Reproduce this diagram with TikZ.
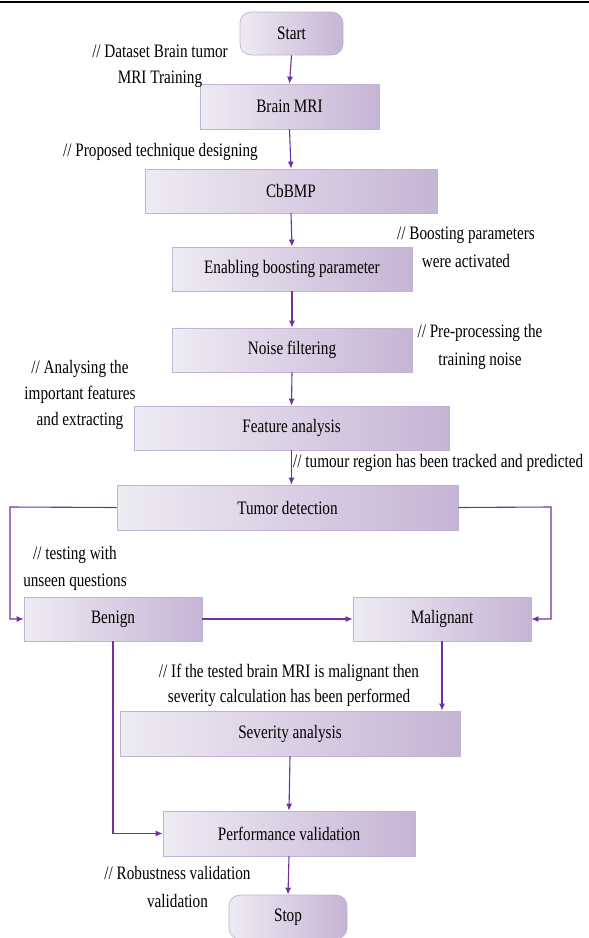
\documentclass[tikz,border=0pt]{standalone}
\usepackage{fontspec}
\setmainfont{Liberation Serif}[FakeStretch=0.8]
\usetikzlibrary{arrows.meta,calc}
\definecolor{lavL}{HTML}{EEEBF4}
\definecolor{lavR}{HTML}{C6B4D4}
\definecolor{lavB}{HTML}{C2B2D3}
\definecolor{arrc}{HTML}{7030A0}
\begin{document}
\begin{tikzpicture}[x=1pt,y=-1pt,
  every node/.style={font=\fontsize{19}{26}\selectfont, inner sep=0pt},
  box/.style={draw=lavB, line width=0.7pt, left color=lavL, right color=lavR},
  term/.style={box, rounded corners=11pt},
  note/.style={align=center},
  arr/.style={draw=arrc, line width=1.1pt, -{Latex[length=7pt,width=6pt]}}
]
\useasboundingbox (0,0) rectangle (589,938);
\draw[line width=1.6pt] (0,2) -- (589,2);

% boxes
\node[term, minimum width=103pt, minimum height=43pt] (start) at (291.5,33.5) {Start};
\node[box, minimum width=179pt, minimum height=45pt] (brain) at (289.5,106.5) {Brain MRI};
\node[box, minimum width=292pt, minimum height=44pt] (cbbmp) at (291,191) {CbBMP};
\node[box, minimum width=240pt, minimum height=44pt] (enab) at (292,269) {Enabling boosting parameter};
\node[box, minimum width=240pt, minimum height=44pt] (noise) at (292,350) {Noise filtering};
\node[box, minimum width=315pt, minimum height=44pt] (feat) at (291.5,428) {Feature analysis};
\node[box, minimum width=341pt, minimum height=45pt] (tumor) at (287.5,507.5) {Tumor detection};
\node[box, minimum width=178pt, minimum height=44pt] (benign) at (113,619) {Benign};
\node[box, minimum width=178pt, minimum height=44pt] (malig) at (442,619) {Malignant};
\node[box, minimum width=340pt, minimum height=45pt] (sev) at (290,733.5) {Severity analysis};
\node[box, minimum width=252pt, minimum height=45pt] (perf) at (289,833.5) {Performance validation};
\node[term, minimum width=118pt, minimum height=44pt] (stop) at (288,917) {Stop};

% notes
\node[note] (n1) at (160,66) {// Dataset Brain tumor\\MRI Training};
\node[note] (n2) at (160.5,152) {// Proposed technique designing};
\node[note, font=\fontsize{19}{28}\selectfont] (n3) at (466,247) {// Boosting parameters\\were activated};
\node[note, font=\fontsize{19}{28}\selectfont] (n4) at (480,347) {// Pre-processing the\\training noise};
\node[note, font=\fontsize{19}{26}\selectfont] (n5) at (80,395) {// Analysing the\\important features\\and extracting};
\node[anchor=west] (n6) at (293,463) {// tumour region has been tracked and predicted};
\node[note, font=\fontsize{19}{27}\selectfont] (n7) at (75,568.5) {// testing with\\unseen questions};
\node[note, font=\fontsize{19}{25}\selectfont] (n8) at (289,685.5) {// If the tested brain MRI is malignant then\\severity calculation has been performed};
\node[note, font=\fontsize{19}{28}\selectfont] (n9) at (177.5,887) {// Robustness validation\\validation};

% connectors
\coordinate (lx) at (10,507);
\coordinate (rx) at (551,507);
\draw[arr] (start.south) -- (brain.north);
\draw[arr] (brain.south) -- (cbbmp.north);
\draw[arr] (cbbmp.south) -- (enab.north);
\draw[arr] (enab.south) -- (noise.north);
\draw[arr] (noise.south) -- (feat.north);
\draw[arr] (feat.south) -- (feat.south |- tumor.north);
\draw[arr] (tumor.west) -- (lx) |- (benign.west);
\draw[arr] (tumor.east) -- (rx) |- (malig.east);
\draw[arr] (benign.east) -- (malig.west);
\draw[arr] (malig.south) -- (malig.south |- sev.north);
\draw[arr] (benign.south) |- (perf.west);
\draw[arr] (sev.south) -- (perf.north);
\draw[arr] (perf.south) -- (stop.north);
\end{tikzpicture}
\end{document}
